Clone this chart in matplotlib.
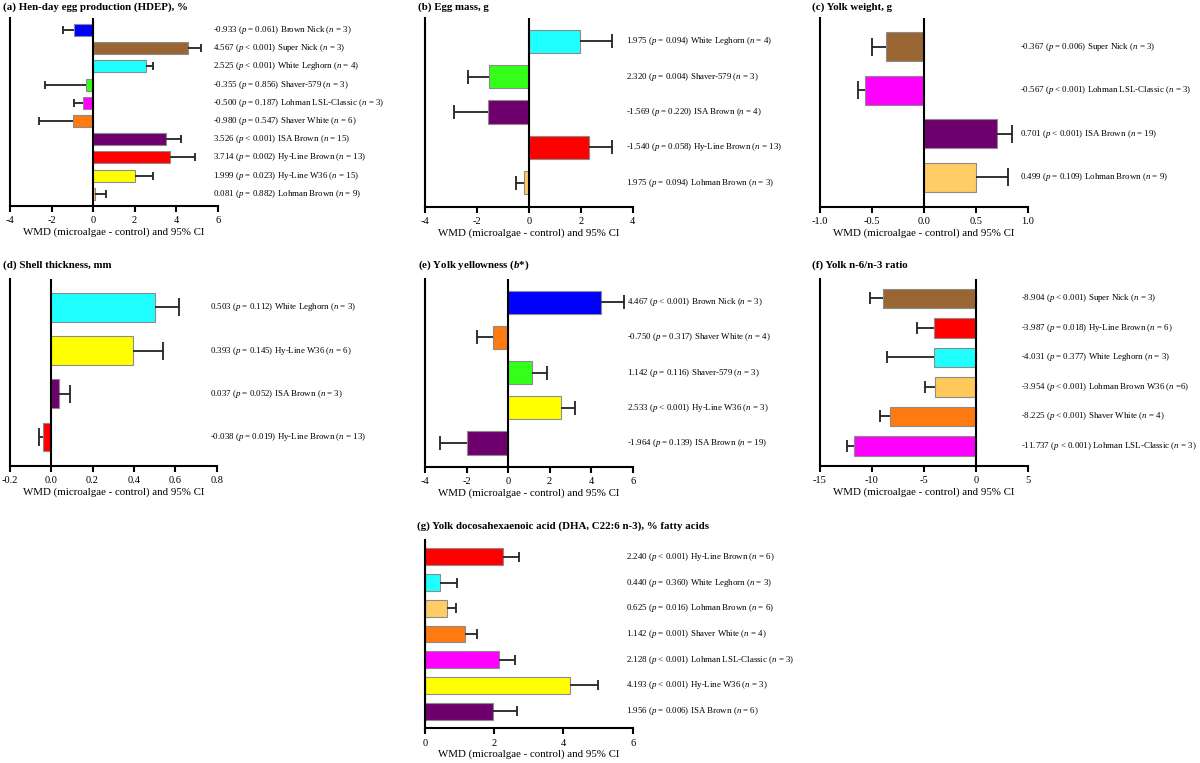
import matplotlib
matplotlib.use("Agg")
import matplotlib.pyplot as plt
from matplotlib.transforms import blended_transform_factory

plt.rcParams['font.family'] = ['Liberation Serif', 'DejaVu Serif']
plt.rcParams['mathtext.fontset'] = 'custom'
plt.rcParams['mathtext.rm'] = 'Liberation Serif'
plt.rcParams['mathtext.it'] = 'Liberation Serif:italic'
plt.rcParams['mathtext.bf'] = 'Liberation Serif:bold'
plt.rcParams['mathtext.bfit'] = 'Liberation Serif:italic:bold'
plt.rcParams['axes.unicode_minus'] = False

# ---------------- data ----------------
a_names = ['Brown Nick', 'Super Nick', 'White Leghorn', 'Shaver-579', 'Lohman LSL-Classic',
           'Shaver White', 'ISA Brown', 'Hy-Line Brown', 'Hy-Line W36', 'Lohman Brown']
a_wmd = [-0.933, 4.567, 2.525, -0.355, -0.500, -0.980, 3.526, 3.714, 1.999, 0.081]
a_ci = [-1.44, 5.21, 2.90, -2.33, -0.90, -2.58, 4.22, 4.91, 2.87, 0.64]
a_txt = ['-0.933', '4.567', '2.525', '-0.355', '-0.500', '-0.980', '3.526', '3.714', '1.999', '0.081']
a_p = ['= 0.061', '< 0.001', '< 0.001', '= 0.856', '= 0.187', '= 0.547', '< 0.001', '= 0.002', '= 0.023', '= 0.882']
a_n = ['= 3', '= 3', '= 4', '= 3', '= 3', '= 6', '= 15', '= 13', '= 15', '= 9']

b_names = ['White Leghorn', 'Shaver-579', 'ISA Brown', 'Hy-Line Brown', 'Lohman Brown']
b_wmd = [1.975, -1.540, -1.569, 2.320, -0.18]
b_ci = [3.19, -2.34, -2.87, 3.19, -0.49]
b_txt = ['1.975', '2.320', '-1.569', '-1.540', '1.975']
b_p = ['= 0.094', '= 0.004', '= 0.220', '= 0.058', '= 0.094']
b_n = ['= 4', '= 3', '= 4', '= 13', '= 3']

c_names = ['Super Nick', 'Lohman LSL-Classic', 'ISA Brown', 'Lohman Brown']
c_wmd = [-0.367, -0.567, 0.701, 0.499]
c_ci = [-0.50, -0.63, 0.85, 0.81]
c_txt = ['-0.367', '-0.567', '0.701', '0.499']
c_p = ['= 0.006', '< 0.001', '< 0.001', '= 0.109']
c_n = ['= 3', '= 3', '= 19', '= 9']

d_names = ['White Leghorn', 'Hy-Line W36', 'ISA Brown', 'Hy-Line Brown']
d_wmd = [0.503, 0.393, 0.037, -0.038]
d_ci = [0.615, 0.54, 0.091, -0.056]
d_txt = ['0.503', '0.393', '0.037', '-0.038']
d_p = ['= 0.112', '= 0.145', '= 0.052', '= 0.019']
d_n = ['= 3', '= 6', '= 3', '= 13']

e_names = ['Brown Nick', 'Shaver White', 'Shaver-579', 'Hy-Line W36', 'ISA Brown']
e_wmd = [4.467, -0.750, 1.142, 2.533, -1.964]
e_ci = [5.57, -1.49, 1.88, 3.21, -3.26]
e_txt = ['4.467', '-0.750', '1.142', '2.533', '-1.964']
e_p = ['< 0.001', '= 0.317', '= 0.116', '< 0.001', '= 0.139']
e_n = ['= 3', '= 4', '= 3', '= 3', '= 19']

f_names = ['Super Nick', 'Hy-Line Brown', 'White Leghorn', 'Lohman Brown W36', 'Shaver White',
           'Lohman LSL-Classic']
f_wmd = [-8.904, -3.987, -4.031, -3.954, -8.225, -11.737]
f_ci = [-10.16, -5.65, -8.55, -4.90, -9.20, -12.42]
f_txt = ['-8.904', '-3.987', '-4.031', '-3.954', '-8.225', '-11.737']
f_p = ['< 0.001', '= 0.018', '= 0.377', '< 0.001', '< 0.001', '< 0.001']
f_n = ['= 3', '= 6', '= 3', '=6', '= 4', '= 3']

g_names = ['Hy-Line Brown', 'White Leghorn', 'Lohman Brown', 'Shaver White', 'Lohman LSL-Classic',
           'Hy-Line W36', 'ISA Brown']
g_wmd = [2.240, 0.440, 0.625, 1.142, 2.128, 4.193, 1.956]
g_ci = [2.72, 0.93, 0.89, 1.51, 2.59, 5.00, 2.65]
g_txt = ['2.240', '0.440', '0.625', '1.142', '2.128', '4.193', '1.956']
g_p = ['< 0.001', '= 0.360', '= 0.016', '= 0.001', '< 0.001', '< 0.001', '= 0.006']
g_n = ['= 6', '= 3', '= 6', '= 4', '= 3', '= 3', '= 6']

strain_colors = {
    'Brown Nick': '#0000FF', 'Super Nick': '#996633', 'White Leghorn': '#1FFFFF',
    'Shaver-579': '#33FF1A', 'Lohman LSL-Classic': '#FF00FF', 'Shaver White': '#FF7A10',
    'ISA Brown': '#6E006E', 'Hy-Line Brown': '#FF0000', 'Hy-Line W36': '#FFFF00',
    'Lohman Brown': '#FFCC66', 'Lohman Brown W36': '#FFC85A',
}

titles = {
    'a': '(a) Hen-day egg production (HDEP), %',
    'b': '(b) Egg mass, g',
    'c': '(c) Yolk weight, g',
    'd': '(d) Shell thickness, mm',
    'e': r'(e) Yolk yellowness ($\mathbfit{b}$*)',
    'f': '(f) Yolk n-6/n-3 ratio',
    'g': '(g) Yolk docosahexaenoic acid (DHA, C22:6 n-3), % fatty acids',
}
xlabel = 'WMD (microalgae - control) and 95% CI'

# ---------------- layout ----------------
W, H = 1200, 763
fig = plt.figure(figsize=(W / 100, H / 100), dpi=100)


def rect(l, r, t, b):
    return [l / W, 1 - b / H, (r - l) / W, (b - t) / H]


panels = [
    # key, names, wmd, ci, txt, p, n, (l, r, t, b), xlim, xticks, label_x, title_x, title_y
    ('a', a_names, a_wmd, a_ci, a_txt, a_p, a_n, (10, 217.7, 18, 206), (-4, 6), [-4, -2, 0, 2, 4, 6], 213, 3, 7),
    ('b', b_names, b_wmd, b_ci, b_txt, b_p, b_n, (425, 632.7, 18, 206.5), (-4, 4), [-4, -2, 0, 2, 4], 626.5, 418, 7),
    ('c', c_names, c_wmd, c_ci, c_txt, c_p, c_n, (820, 1027.7, 18, 206.5), (-1, 1), [-1.0, -0.5, 0.0, 0.5, 1.0], 1020.5, 812.5, 7),
    ('d', d_names, d_wmd, d_ci, d_txt, d_p, d_n, (9.5, 217, 279, 465.7), (-0.2, 0.8), [-0.2, 0.0, 0.2, 0.4, 0.6, 0.8], 210, 3, 265),
    ('e', e_names, e_wmd, e_ci, e_txt, e_p, e_n, (425, 632.7, 279, 466.5), (-4, 6), [-4, -2, 0, 2, 4, 6], 627, 418, 265),
    ('f', f_names, f_wmd, f_ci, f_txt, f_p, f_n, (820, 1027.7, 279, 465.7), (-15, 5), [-15, -10, -5, 0, 5], 1021.5, 812.5, 265),
    ('g', g_names, g_wmd, g_ci, g_txt, g_p, g_n, (425, 632.7, 540, 728.3), (0, 6), [0, 2, 4, 6], 626.5, 417, 526.5),
]

LW = 1.5
for key, names, wmd, ci, txt, pv, nv, box, xlim, xticks, label_x, tx, ty in panels:
    ax = fig.add_axes(rect(*box))
    n = len(names)
    ys = list(range(n))
    cols = [strain_colors[s] for s in names]
    ax.barh(ys, wmd, height=0.66, color=cols, edgecolor='#8c8c8c', linewidth=0.8, zorder=2)
    spacing_px = (box[3] - box[2]) / (n - 1 + 1.32)
    cap_ms = 0.62 * 0.66 * spacing_px * 0.72
    for y, v, c in zip(ys, wmd, ci):
        ax.plot([v, c], [y, y], color='#222222', lw=1.3, zorder=3, solid_capstyle='butt')
        ax.plot([c], [y], marker='|', color='#222222', markersize=cap_ms, markeredgewidth=1.3, zorder=3)
    ax.axvline(0, color='black', lw=LW, zorder=4)
    ax.set_xlim(*xlim)
    ax.set_ylim(n - 1 + 0.67, -0.66)
    ax.set_xticks(xticks)
    ax.set_yticks([])
    for s in ['top', 'right']:
        ax.spines[s].set_visible(False)
    for s in ['left', 'bottom']:
        ax.spines[s].set_linewidth(LW)
    ax.tick_params(axis='x', direction='out', length=4, width=LW, labelsize=7.5, pad=3.5)
    ax.set_xlabel(xlabel, fontsize=7.8, labelpad=1.5)
    tr = blended_transform_factory(fig.transFigure, ax.transData)
    for y, t, p, nn, s in zip(ys, txt, pv, nv, names):
        ax.text(label_x / W, y, f'{t} ($p$ {p}) {s} ($n$ {nn})', transform=tr,
                fontsize=6.4, va='center', ha='left', clip_on=False)
    fig.text(tx / W, 1 - ty / H, titles[key], fontsize=7.8, fontweight='bold', va='center', ha='left')

fig.savefig('out.png', dpi=100)
